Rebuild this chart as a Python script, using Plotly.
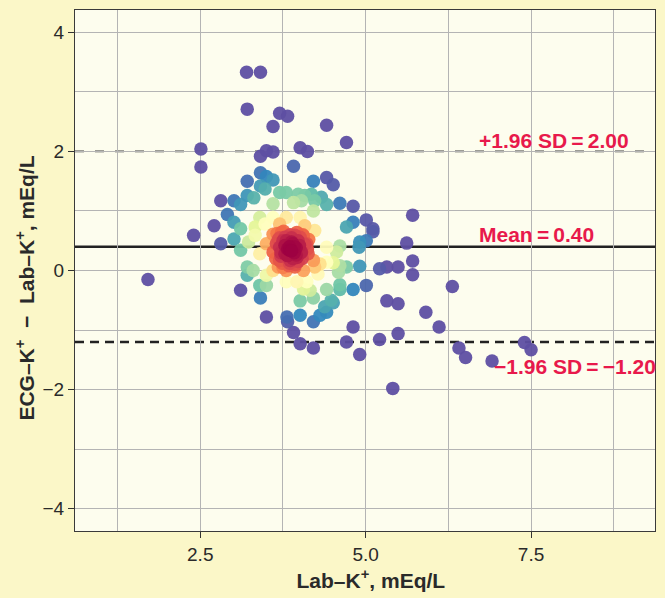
import numpy as np
import plotly.graph_objects as go

# Lab-K+ (mEq/L) and ECG-K+ minus Lab-K+ (mEq/L)
lab_k = [
    3.20, 3.41, 3.21, 3.70, 3.82, 3.60, 4.41, 4.71, 2.51, 2.51,
    3.41, 3.50, 3.60, 4.01, 4.12, 3.91,
    2.81, 2.40, 1.71, 2.71, 2.81, 2.91,
    3.21, 3.01, 3.11, 3.21, 3.31,
    3.41, 3.50, 3.60, 3.41,
    3.01, 3.11, 3.01, 3.11,
    3.21, 3.21, 3.11, 3.41, 3.40, 3.50,
    3.50, 3.81, 3.82, 3.91, 4.01, 4.21,
    4.01, 4.21, 4.31, 4.41, 4.51,
    4.01, 4.21,
    4.41, 4.61, 4.61, 4.81, 5.01,
    4.81, 4.71, 4.91, 5.21, 5.49,
    5.32, 5.49,
    5.21, 5.32, 5.49,
    4.91, 4.71, 4.61,
    4.61, 4.91, 5.01,
    4.71, 4.81, 5.01, 5.11, 5.11,
    4.61, 4.81,
    4.41, 4.51, 4.21, 4.41,
    4.41, 4.41,
    5.71, 5.62, 5.71, 5.71,
    6.31, 5.91, 6.11, 5.41,
    6.41, 6.51, 6.91, 7.40, 7.50,
    4.90, 4.51,
    3.48, 3.70, 3.80, 3.98, 4.08, 4.18, 3.91, 4.03, 4.23, 4.33, 3.60, 4.21,
    3.23, 3.33, 3.40, 3.48, 3.33, 3.60, 3.70, 3.80, 4.01, 4.08, 4.23,
    3.60, 3.73, 3.80, 3.93, 4.01, 4.11, 3.50, 3.40, 3.60, 3.70,
    3.78, 3.88, 3.96, 3.86, 4.03, 3.70, 3.68, 4.13, 4.21, 4.23,
    3.93, 4.06, 3.80, 3.60, 3.50, 3.30, 3.80, 3.96, 4.11, 4.28, 4.31,
    4.06, 4.16, 4.38, 4.48, 4.59, 4.56,
    3.85, 3.90, 3.75, 3.95, 3.82, 3.92, 3.88, 3.78, 4.00, 3.72,
    3.85, 3.98, 3.65, 4.05, 3.70,
    3.66, 3.76, 3.86, 3.96, 4.06, 4.14, 3.64, 3.74, 3.84, 3.94,
    4.04, 4.12, 3.68, 3.78, 3.88, 3.98, 4.08, 3.72, 3.82, 3.92,
    4.02, 3.75, 3.85, 3.95, 3.90,
]
diff_k = [
    3.33, 3.33, 2.71, 2.64, 2.59, 2.42, 2.44, 2.15, 2.04, 1.74,
    1.92, 2.01, 1.99, 2.06, 2.00, 1.75,
    1.17, 0.59, -0.15, 0.75, 0.45, 0.94,
    1.50, 1.17, 1.11, 1.26, 1.22,
    1.64, 1.58, 1.52, 1.42,
    0.81, 0.70, 0.53, 0.34,
    0.06, -0.08, -0.33, -0.46, -0.25, -0.25,
    -0.78, -0.78, -0.86, -1.04, -1.23, -1.30,
    -0.75, -0.86, -0.75, -0.70, -0.54,
    -0.51, -0.46,
    -0.32, -0.24, -0.32, -0.32, -0.25,
    -0.95, -1.20, -1.41, -1.16, -1.06,
    -0.51, -0.56,
    0.03, 0.06, 0.06,
    0.07, 0.06, 0.08,
    0.41, 0.48, 0.50,
    0.73, 0.81, 0.85, 0.70, 0.65,
    1.13, 1.08,
    1.56, 1.44, 1.50, 1.11,
    0.39, 0.14,
    0.93, 0.46, 0.16, -0.07,
    -0.27, -0.70, -0.95, -1.98,
    -1.30, -1.46, -1.52, -1.21, -1.33,
    0.39, 0.13,
    1.37, 1.31, 1.31, 1.28, 1.26, 1.28, 1.14, 1.17, 1.17, 1.23, 1.12, 1.00,
    0.48, 0.59, 0.89, 0.78, 0.73, 0.89, 0.78, 0.89, 0.89, 0.75, 0.67,
    0.61, 0.64, 0.50, 0.59, 0.56, 0.45, 0.45, 0.28, 0.31, 0.39,
    0.28, 0.33, 0.22, 0.17, 0.31, 0.17, 0.06, 0.28, 0.17, 0.06,
    0.06, 0.00, 0.00, 0.00, -0.08, 0.00, -0.19, -0.19, -0.19, -0.06, 0.11,
    -0.31, -0.33, -0.61, -0.50, -0.03, 0.31,
    0.40, 0.45, 0.50, 0.38, 0.25, 0.30, 0.48, 0.42, 0.42, 0.30,
    0.12, 0.15, 0.45, 0.60, 0.55,
    0.62, 0.66, 0.60, 0.64, 0.58, 0.52, 0.20, 0.12, 0.08, 0.10,
    0.20, 0.36, 0.52, 0.56, 0.55, 0.50, 0.44, 0.24, 0.36, 0.40,
    0.30, 0.05, 0.34, 0.26, 0.20,
]

mean_diff = 0.40
upper_loa = 2.00
lower_loa = -1.20

x = np.array(lab_k)
y = np.array(diff_k)

# point density (colour by local density)
h = 0.38
dx = (x[:, None] - x[None, :]) / h
dy = (y[:, None] - y[None, :]) / h
dens = np.exp(-0.5 * (dx ** 2 + dy ** 2)).sum(axis=1)
order = np.argsort(dens)
cmin = float(np.quantile(dens, 0.22))
cmax = float(dens.max())

fig = go.Figure()
fig.add_trace(go.Scatter(
    x=x[order], y=y[order], mode="markers",
    marker=dict(size=13.5, color=dens[order], colorscale="Spectral_r",
                cmin=cmin, cmax=cmax, opacity=0.95, line=dict(width=0)),
    showlegend=False, hoverinfo="skip",
))

fig.add_shape(type="line", xref="x domain", x0=0, x1=1, y0=upper_loa, y1=upper_loa,
              line=dict(color="#3a3a3a", width=1.8, dash="9px,11px"), layer="below")
fig.add_shape(type="line", xref="x domain", x0=0, x1=1, y0=mean_diff, y1=mean_diff,
              line=dict(color="#222222", width=2.6), layer="below")
fig.add_shape(type="line", xref="x domain", x0=0, x1=1, y0=lower_loa, y1=lower_loa,
              line=dict(color="#222222", width=2.6, dash="9px,6px"), layer="below")

red = "#E8194B"
afont = dict(family="Liberation Sans, Arial, sans-serif", size=21, color=red)
fig.add_annotation(x=6.69, y=upper_loa, xanchor="left", yanchor="bottom", yshift=-3,
                   text="<b>+1.96 SD\u2009=\u20092.00</b>", showarrow=False, font=afont)
fig.add_annotation(x=6.69, y=mean_diff, xanchor="left", yanchor="bottom", yshift=-1,
                   text="<b>Mean\u2009=\u20090.40</b>", showarrow=False, font=afont)
fig.add_annotation(x=6.91, y=lower_loa, xanchor="left", yanchor="top", yshift=-11,
                   text="<b>\u22121.96 SD\u2009=\u2009\u22121.20</b>", showarrow=False, font=afont)

axis_common = dict(
    showline=True, mirror=True, linecolor="#3a3a3a", linewidth=1.3,
    showgrid=True, gridcolor="#b4b4b4", gridwidth=1.2, zeroline=False,
    ticks="outside", ticklen=6, tickwidth=1.3, tickcolor="#333333",
    tickfont=dict(family="Liberation Sans, Arial, sans-serif", size=19, color="#2a2a2a"),
)
fig.update_xaxes(
    range=[0.607, 9.373], tickmode="linear", tick0=0, dtick=2.5, tickformat=".1f",
    minor=dict(dtick=1.25, showgrid=True, gridcolor="#b4b4b4", gridwidth=1.2, ticks=""),
    title=dict(text="<b>\u00a0\u00a0Lab\u2013K<sup>+</sup>, mEq/L</b>", standoff=9,
               font=dict(family="Liberation Sans, Arial, sans-serif", size=21, color="#2a2a2a")),
    **axis_common,
)
fig.update_yaxes(
    range=[-4.375, 4.375], tickmode="linear", tick0=0, dtick=2,
    minor=dict(dtick=1, showgrid=True, gridcolor="#b4b4b4", gridwidth=1.2, ticks=""),
    title=dict(text="<b>ECG\u2013K<sup>+</sup>  \u2212  Lab\u2013K<sup>+</sup>, mEq/L"
                    "\u00a0\u00a0\u00a0\u00a0\u00a0\u00a0</b>", standoff=2,
               font=dict(family="Liberation Sans, Arial, sans-serif", size=21, color="#2a2a2a")),
    **axis_common,
)
fig.update_layout(
    width=665, height=598,
    margin=dict(l=75, r=10, t=9, b=66),
    paper_bgcolor="#FBF7C8",
    plot_bgcolor="#FDFDEE",
)
fig.write_html("out.html")
